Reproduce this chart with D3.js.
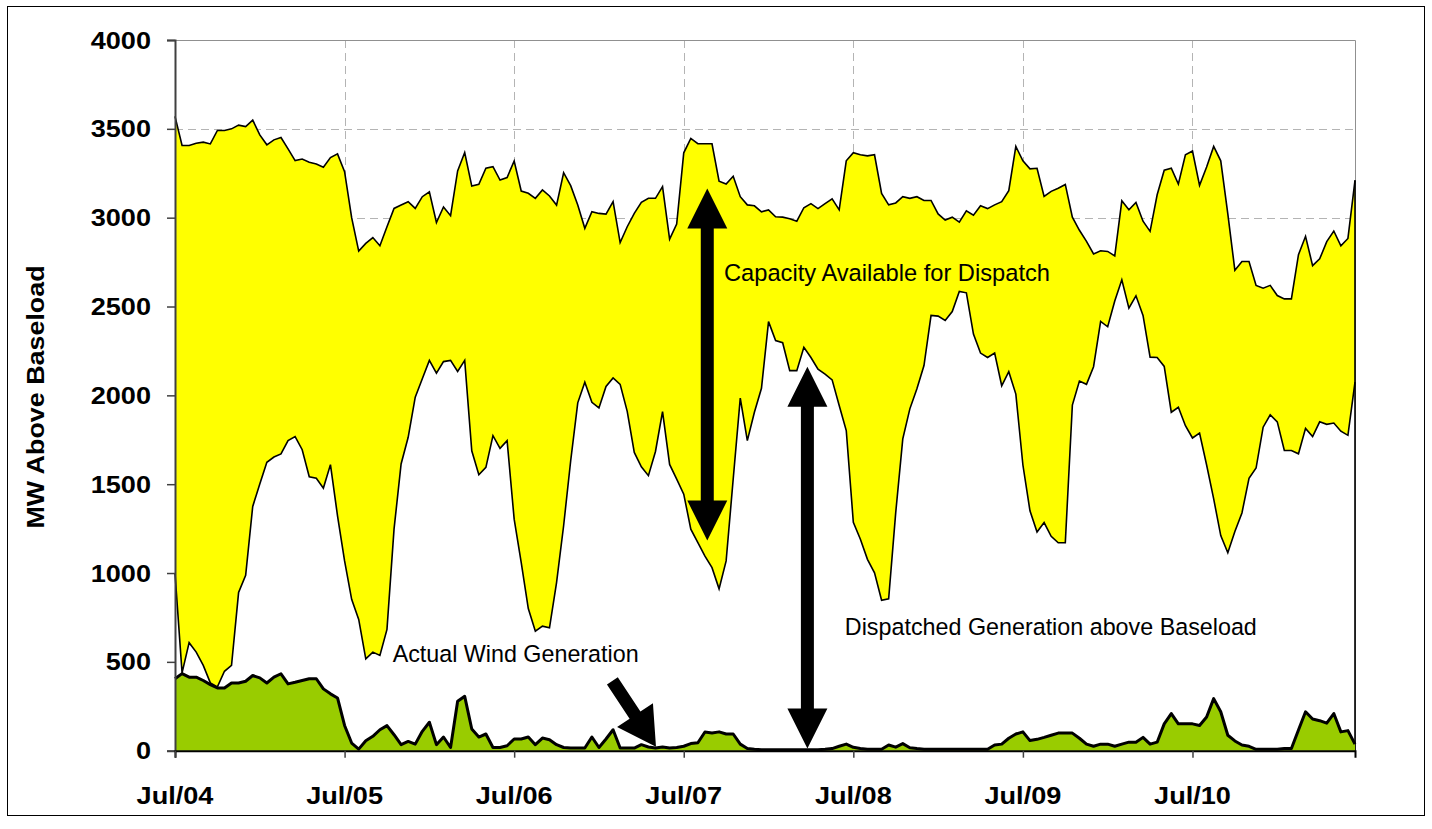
<!DOCTYPE html>
<html><head><meta charset="utf-8">
<script src="https://cdn.jsdelivr.net/npm/d3@7/dist/d3.min.js"></script>
<style>
body{margin:0;background:#fff}
svg{display:block}
text{font-family:"Liberation Sans",Arial,Helvetica,sans-serif}
</style></head>
<body><svg id="chart" width="1432" height="829"></svg>
<script>
// ---- data (semi-monthly periods starting Jul 2004) ----
const tickIndex  = [0, 24, 48, 72, 96, 120, 144];
const tickLabels = ["Jul/04","Jul/05","Jul/06","Jul/07","Jul/08","Jul/09","Jul/10"];
const yTicks = [0, 500, 1000, 1500, 2000, 2500, 3000, 3500, 4000];

// total capacity above baseload (top of yellow band)
const totalCapacity = [
3570,3406,3406,3419,3425,3415,3491,3491,3500,3521,
3513,3549,3466,3410,3438,3451,3387,3321,3330,3312,
3302,3284,3338,3359,3259,3000,2812,2855,2888,2842,
2949,3052,3071,3090,3052,3118,3146,2973,3060,3011,
3263,3367,3178,3188,3278,3287,3212,3226,3319,3150,
3137,3109,3156,3122,3071,3253,3180,3071,2940,3034,
3024,3020,3090,2860,2949,3024,3086,3109,3109,3175,
2879,2964,3365,3446,3416,3416,3416,3205,3189,3233,
3118,3072,3067,3033,3044,3005,3003,2994,2980,3056,
3079,3051,3079,3106,3044,3320,3366,3354,3348,3354,
3136,3072,3083,3118,3109,3118,3097,3097,3021,2987,
3003,2975,3039,3014,3067,3051,3072,3090,3152,3401,
3320,3275,3278,3120,3148,3166,3187,3003,2929,2867,
2796,2814,2810,2785,3095,3044,3086,2980,2923,3129,
3267,3278,3189,3354,3375,3182,3285,3401,3320,3021,
2704,2753,2753,2619,2603,2619,2562,2543,2543,2792,
2895,2730,2768,2865,2925,2842,2883,3210];

// dispatched generation above baseload (white area)
const dispatched = [
999,438,608,555,480,382,359,447,480,890,
987,1375,1501,1623,1653,1670,1745,1768,1694,1542,
1533,1478,1610,1322,1068,852,739,517,555,536,
683,1247,1614,1764,1990,2093,2197,2125,2190,2197,
2134,2197,1688,1553,1595,1773,1702,1745,1303,1059,
800,673,701,692,946,1266,1632,1958,2074,1961,
1929,2050,2098,2062,1910,1679,1598,1548,1684,1908,
1611,1529,1444,1247,1171,1095,1030,911,1068,1529,
1984,1745,1905,2040,2415,2308,2296,2139,2139,2270,
2213,2147,2119,2087,1943,1802,1285,1190,1077,1001,
847,855,1340,1755,1924,2037,2168,2450,2446,2421,
2472,2585,2577,2345,2238,2213,2238,2054,2133,2007,
1608,1350,1231,1284,1207,1170,1170,1945,2080,2062,
2161,2416,2386,2531,2650,2491,2560,2450,2215,2213,
2163,1905,1933,1829,1760,1787,1608,1417,1211,1114,
1234,1338,1533,1591,1821,1890,1851,1690,1690,1671,
1814,1768,1851,1837,1844,1798,1775,2074];

// actual wind generation (green area)
const wind = [
405,434,414,414,395,372,353,353,381,381,
391,423,410,381,414,433,376,385,395,405,
405,348,320,297,142,43,9,56,81,118,
141,90,34,52,37,109,160,34,77,18,
278,306,122,77,94,18,18,28,66,66,
77,34,71,62,34,18,15,15,15,77,
18,66,118,15,15,15,34,21,15,21,
15,18,25,40,45,105,100,106,94,94,
37,12,8,5,5,5,5,5,5,5,
5,5,8,12,25,37,19,12,8,8,
8,32,20,40,17,12,8,8,8,8,
8,8,8,8,8,8,32,37,70,94,
106,57,64,75,87,99,99,99,70,37,
25,37,37,25,37,48,48,75,37,48,
151,209,151,151,151,142,190,293,219,87,
55,32,25,8,8,8,8,12,12,117,
219,178,169,155,209,106,113,37];

// annotations in data coordinates [index, MW]
const capArrow   = [[75.33, 3164], [75.33, 1183]];
const dispArrow  = [[89.5, 2161], [89.5, 12]];
const windArrow  = [[61.9, 393], [68.07, 22]];
const labels = [
  {text:"Capacity Available for Dispatch",       at:[77.7, 2642], w:326},
  {text:"Dispatched Generation above Baseload",  at:[94.8, 651],  w:412},
  {text:"Actual Wind Generation",                at:[30.8, 499],  w:246}
];

// ---- chart ----
const svg = d3.select("#chart");
const L = 175, R = 1355, T = 40, B = 750.7;
const x = d3.scaleLinear().domain([0, totalCapacity.length - 1]).range([L, R]);
const y = d3.scaleLinear().domain([0, 4000]).range([B, T]);
const idx = d3.range(totalCapacity.length);

// outer border
svg.append("rect").attr("x", 7.5).attr("y", 6.5).attr("width", 1417).attr("height", 809)
  .attr("fill", "#fff").attr("stroke", "#000").attr("stroke-width", 1);

// gridlines
const grid = svg.append("g");
grid.selectAll("line.h").data(yTicks.filter(v => v > 0 && v < 4000)).join("line")
  .attr("x1", L).attr("x2", R).attr("y1", d => Math.round(y(d)) + 0.5).attr("y2", d => Math.round(y(d)) + 0.5)
  .attr("stroke", "#b4b4b4").attr("stroke-width", 1).attr("stroke-dasharray", "8,5");
grid.selectAll("line.v").data(tickIndex.filter(i => i > 0)).join("line")
  .attr("y1", T).attr("y2", B).attr("x1", d => Math.round(x(d)) + 0.5).attr("x2", d => Math.round(x(d)) + 0.5)
  .attr("stroke", "#b4b4b4").attr("stroke-width", 1).attr("stroke-dasharray", "8,5");
// top & right plot border
svg.append("path").attr("d", `M${L},${y(4000) + 0.5}H${R + 0.5}V${B}`)
  .attr("fill", "none").attr("stroke", "#909090").attr("stroke-width", 1);

// white dispatched area
const areaDisp = d3.area().x(i => x(i)).y0(y(0)).y1(i => y(dispatched[i]));
svg.append("path").attr("d", areaDisp(idx)).attr("fill", "#fff").attr("stroke", "none");

// yellow capacity band
const areaCap = d3.area().x(i => x(i)).y0(i => y(dispatched[i])).y1(i => y(totalCapacity[i]));
svg.append("path").attr("d", areaCap(idx)).attr("fill", "#ffff00").attr("stroke", "none");

const line = arr => d3.line().x(i => x(i)).y(i => y(arr[i]))(idx);
svg.append("path").attr("d", line(dispatched)).attr("fill", "none").attr("stroke", "#000").attr("stroke-width", 1.6).attr("stroke-linejoin", "miter");
svg.append("path").attr("d", line(totalCapacity)).attr("fill", "none").attr("stroke", "#000").attr("stroke-width", 1.6).attr("stroke-linejoin", "miter");
// right edge of stacked areas
svg.append("line").attr("x1", x(idx.length - 1)).attr("x2", x(idx.length - 1))
  .attr("y1", y(0)).attr("y2", y(totalCapacity[idx.length - 1])).attr("stroke", "#000").attr("stroke-width", 1.6);

// green wind area
const areaWind = d3.area().x(i => x(i)).y0(y(0)).y1(i => y(wind[i]));
svg.append("path").attr("d", areaWind(idx)).attr("fill", "#99cc00");
svg.append("path").attr("d", line(wind)).attr("fill", "none").attr("stroke", "#000").attr("stroke-width", 3).attr("stroke-linejoin", "round");

// axes
const yAxis = svg.append("g").attr("transform", `translate(${L},0)`)
  .call(d3.axisLeft(y).tickValues(yTicks).tickSize(8).tickFormat(d3.format("d")));
yAxis.select(".domain").attr("stroke", "#404040").attr("stroke-width", 2);
yAxis.selectAll(".tick line").attr("stroke", "#404040").attr("stroke-width", 1.5);
yAxis.selectAll(".tick text").remove();
svg.append("g").selectAll("text").data(yTicks).join("text")
  .attr("transform", d => `translate(151,${y(d) + 8.5}) scale(1.13,1)`)
  .attr("text-anchor", "end").attr("font-size", 24).attr("font-weight", "bold").attr("fill", "#000")
  .text(d => d);

const xAxis = svg.append("g").attr("transform", `translate(0,${B})`)
  .call(d3.axisBottom(x).tickValues(tickIndex).tickSize(7).tickFormat(""));
xAxis.select(".domain").attr("stroke", "#000").attr("stroke-width", 2);
xAxis.selectAll(".tick line").attr("stroke", "#404040").attr("stroke-width", 1.5);
svg.append("g").selectAll("text").data(tickIndex).join("text")
  .attr("transform", (d) => `translate(${x(d)},804) scale(1.13,1)`)
  .attr("text-anchor", "middle").attr("font-size", 24).attr("font-weight", "bold").attr("fill", "#000")
  .text((d, i) => tickLabels[i]);

// y axis title
svg.append("text").attr("transform", "translate(44,397) rotate(-90) scale(1.12,1)")
  .attr("text-anchor", "middle").attr("font-size", 24).attr("font-weight", "bold")
  .text("MW Above Baseload");

// arrows
function arrowPath(p1, p2, shaft, headW, headL, both) {
  const [x1, y1] = p1, [x2, y2] = p2;
  const dx = x2 - x1, dy = y2 - y1, len = Math.hypot(dx, dy);
  const ux = dx / len, uy = dy / len, nx = -uy, ny = ux;
  const P = (t, s) => [x1 + ux * t + nx * s, y1 + uy * t + ny * s];
  const s = shaft / 2, h = headW / 2;
  const pts = [];
  if (both) { pts.push(P(0, 0), P(headL, h), P(headL, s)); } else { pts.push(P(0, s)); }
  pts.push(P(len - headL, s), P(len - headL, h), P(len, 0), P(len - headL, -h), P(len - headL, -s));
  if (both) { pts.push(P(headL, -s), P(headL, -h)); } else { pts.push(P(0, -s)); }
  return "M" + pts.map(p => p.join(",")).join("L") + "Z";
}
const px = p => [x(p[0]), y(p[1])];
svg.append("path").attr("d", arrowPath(px(capArrow[0]), px(capArrow[1]), 13, 40, 40, true)).attr("fill", "#000");
svg.append("path").attr("d", arrowPath(px(dispArrow[0]), px(dispArrow[1]), 13, 40, 40, true)).attr("fill", "#000");
svg.append("path").attr("d", arrowPath(px(windArrow[0]), px(windArrow[1]), 13, 43, 38, false)).attr("fill", "#000");

// annotation labels
svg.append("g").selectAll("text").data(labels).join("text")
  .attr("x", d => x(d.at[0])).attr("y", d => y(d.at[1]))
  .attr("font-size", 24.5).attr("fill", "#000")
  .attr("textLength", d => d.w).attr("lengthAdjust", "spacingAndGlyphs")
  .text(d => d.text);
</script>
</body></html>
